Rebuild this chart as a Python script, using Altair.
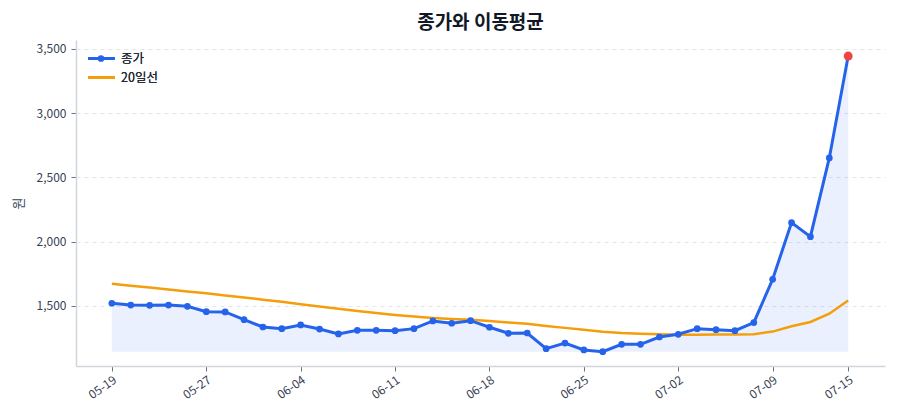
import altair as alt
import pandas as pd

# ---- data ----
dates = ["05-19", "05-20", "05-21", "05-22", "05-23", "05-27", "05-28", "05-29", "05-30", "06-02",
         "06-04", "06-05", "06-06", "06-09", "06-10", "06-11", "06-12", "06-13", "06-16", "06-17",
         "06-18", "06-19", "06-20", "06-23", "06-24", "06-25", "06-26", "06-27", "06-30", "07-01",
         "07-02", "07-03", "07-04", "07-07", "07-08", "07-09", "07-10", "07-11", "07-14", "07-15"]
close = [1519, 1505, 1503, 1505, 1495, 1453, 1451, 1391, 1334, 1321,
         1350, 1318, 1280, 1308, 1308, 1305, 1321, 1381, 1363, 1383,
         1332, 1285, 1287, 1165, 1209, 1155, 1142, 1199, 1199, 1256,
         1277, 1321, 1313, 1305, 1368, 1706, 2147, 2038, 2651, 3445]
ma20 = [1671, 1656, 1641, 1626, 1611, 1596, 1580, 1564, 1547, 1530,
        1512, 1494, 1476, 1459, 1443, 1428, 1415, 1404, 1396, 1390,
        1380, 1369, 1359, 1342, 1327, 1312, 1297, 1287, 1281, 1277,
        1274, 1274, 1275, 1275, 1278, 1298, 1340, 1373, 1437, 1540]
tick_idx = [0, 5, 10, 15, 20, 25, 30, 35, 39]
y_ticks = [1500, 2000, 2500, 3000, 3500]
series_names = ["종가", "20일선"]
series_colors = ["#2563eb", "#f59e0b"]

FONT = "Noto Sans CJK KR"

idx = list(range(len(dates)))
df_close = pd.DataFrame({"idx": idx, "date": dates, "value": close,
                         "series": series_names[0], "base": min(close)})
df_ma = pd.DataFrame({"idx": idx, "date": dates, "value": ma20, "series": series_names[1]})
df_last = df_close.tail(1)

label_js = "[" + ",".join("'" + d + "'" for d in dates) + "]"

x = alt.X("idx:Q",
          scale=alt.Scale(domain=[-1.9, 40.95], nice=False, zero=False),
          axis=alt.Axis(values=tick_idx, labelExpr=label_js + "[datum.value]",
                        title=None, grid=False, labelAngle=325, labelAlign="right",
                        labelBaseline="top", labelPadding=3))
y = alt.Y("value:Q",
          scale=alt.Scale(domain=[1030, 3570], nice=False, zero=False),
          axis=alt.Axis(values=y_ticks, format=",.0f", title="원", grid=True,
                        gridDash=[4, 4], gridColor="#e5e7eb", gridWidth=1,
                        titleAngle=270, titleX=-58, titleY=163,
                        titleAlign="center", titleBaseline="middle",
                        labelPadding=5))

legend = alt.Legend(
    title=None, orient="none", legendX=17, legendY=10,
    symbolType="M-2,0H2", symbolSize=182, symbolStrokeWidth=3,
    labelFont=FONT, labelFontSize=12.5, labelColor="#1f2937",
    labelOffset=11, rowPadding=4, padding=0)

color = alt.Color("series:N",
                  scale=alt.Scale(domain=series_names, range=series_colors),
                  legend=legend)

# second legend: only the marker dot of the 종가 entry, laid over the first
dot_legend = alt.Legend(
    title=None, orient="none", legendX=20, legendY=13.5,
    symbolType="circle", symbolSize=45, symbolStrokeWidth=0,
    labelExpr="''", padding=0)

area = alt.Chart(df_close).mark_area(color="#2563eb", opacity=0.09, stroke="#2563eb",
                                     strokeOpacity=0.05).encode(
    x=x, y=y, y2="base:Q")

ma_line = alt.Chart(df_ma).mark_line(strokeWidth=2.5).encode(x=x, y=y, color=color)
close_line = alt.Chart(df_close).mark_line(strokeWidth=3).encode(x=x, y=y, color=color)
close_pts = alt.Chart(df_close).mark_point(size=45, color="#2563eb", filled=True,
                                           opacity=1).encode(
    x=x, y=y,
    shape=alt.Shape("series:N", scale=alt.Scale(domain=["종가"], range=["circle"]),
                    legend=dot_legend))
last_pt = alt.Chart(df_last).mark_circle(size=80, color="#ef4444", opacity=1).encode(x=x, y=y)

chart = alt.layer(area, ma_line, close_line, close_pts, last_pt).properties(
    width=809, height=326,
    autosize=alt.AutoSizeParams(type="none"),
    padding={"left": 76, "top": 40, "right": 15, "bottom": 54},
    title=alt.Title("종가와 이동평균", font=FONT, fontSize=19, fontWeight="bold",
                    color="#111827", anchor="middle", offset=7),
).resolve_legend(color="independent", shape="independent").configure(
    font=FONT, background="white"
).configure_view(
    stroke=None
).configure_axis(
    domainColor="#d1d5db", domainWidth=1.5, tickColor="#6b7280", tickSize=5,
    labelColor="#374151", labelFont=FONT, labelFontSize=12,
    titleFont=FONT, titleFontSize=13, titleFontWeight="normal", titleColor="#374151",
)

chart.save("out.html", embed_options={"renderer": "svg", "actions": False})
